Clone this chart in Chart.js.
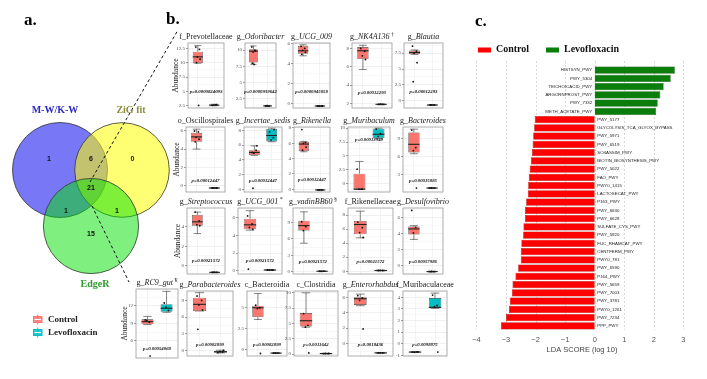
<!DOCTYPE html>
<html><head><meta charset="utf-8">
<script src="https://cdn.jsdelivr.net/npm/chart.js@4.4.1/dist/chart.umd.min.js"></script>
<style>
html,body{margin:0;padding:0;background:#fff;}
#fig{position:relative;width:707px;height:379px;overflow:hidden;background:#fff;}
#fig canvas{position:absolute;left:0;top:0;}
</style></head><body><div id="fig"></div>
<script>
const SERIF='"Liberation Serif","Times New Roman",serif';
const SANS='"Liberation Sans",Arial,sans-serif';

// ================= DATA =================
// Panel a: Venn diagram
const vennSetNames=['M-W/K-W','ZiG fit','EdgeR'];
// regions: A only, A∩B, B only, A∩B∩C, A∩C, B∩C, C only
const vennCounts=[1,6,0,21,1,1,15];
const groupNames=['Control','Levofloxacin'];

// Panel b: differentially abundant taxa
const taxaRank=['f_','g_','g_','g_','g_','o_','g_','g_','g_','g_','g_','g_','g_','f_','g_','g_','g_','c_','c_','g_','f_'];
const taxaNames=['Prevotellaceae','Odoribacter','UCG_009','NK4A136','Blautia','Oscillospirales','Incertae_sedis','Rikenella','Muribaculum','Bacteroides','Streptococcus','UCG_001','vadinBB60','Rikenellaceae','Desulfovibrio','RC9_gut','Parabacteroides','Bacteroidia','Clostridia','Enterorhabdus','Muribaculaceae'];
const taxaMarks=['','','','\u2020','','','','','','','','*','\u00a7','','','\u00a5','','','','',''];
const pValues=['p=0.0000824093','p=0.0000939642','p=0.0000945058','p=0.00012293','p=0.00012293','p=0.00012447','p=0.00012447','p=0.00012447','p=0.00013948','p=0.00015885','p=0.00021572','p=0.00021572','p=0.00021572','p=0.00021572','p=0.00057986','p=0.00054068','p=0.00082899','p=0.00082899','p=0.0011642','p=0.0018436','p=0.0098875'];
// [min, Q1, median, Q3, max]
const ctrlStats=[
 [9.9,9.9,11.0,11.9,12.95],[7.8,8.1,9.85,10.15,10.65],[4.75,4.95,5.25,5.75,5.85],[5.7,6.85,7.75,8.15,8.35],[7.3,7.35,7.6,7.9,8.0],
 [4.0,4.8,5.35,5.8,6.2],[4.6,4.65,5.0,5.3,5.9],[4.9,5.0,5.9,6.2,6.25],[-1.0,-1.0,-1.0,1.8,4.0],[6.5,6.7,8.05,10.0,10.55],
 [3.3,4.1,4.5,5.2,5.5],[4.6,4.7,5.2,5.9,6.8],[5.2,7.5,8.4,9.3,10.9],[4.75,5.25,6.65,7.15,8.55],[3.3,3.9,4.6,4.9,5.0],
 [8.8,8.85,9.3,9.7,10.2],[7.1,7.1,8.3,9.5,10.4],[3.6,3.9,5.0,5.25,6.7],[4.4,4.5,5.45,6.7,10.0],[4.9,5.0,5.8,6.0,6.4],[-0.75,-0.74,-0.72,-0.7,-0.68]];
const levoStats=[
 [2.55,2.6,2.65,2.7,2.8],[1.35,1.4,1.42,1.45,1.5],[-0.32,-0.3,-0.27,-0.25,-0.22],[1.85,1.88,1.9,1.92,1.95],[-0.72,-0.7,-0.68,-0.66,-0.64],
 [-0.34,-0.32,-0.3,-0.28,-0.26],[6.45,6.5,7.3,8.2,8.3],[-0.12,-0.1,-0.08,-0.06,-0.04],[8.1,8.2,8.9,9.9,10.0],[0.8,0.82,0.85,0.88,0.9],
 [-0.72,-0.7,-0.68,-0.66,-0.64],[0.05,0.07,0.1,0.12,0.15],[0.05,0.07,0.1,0.12,0.15],[0.05,0.07,0.1,0.12,0.15],[-0.75,-0.72,-0.7,-0.68,-0.65],
 [10.9,11.0,11.6,12.3,14.5],[-0.45,-0.35,-0.25,-0.1,0.05],[-0.45,-0.42,-0.4,-0.38,-0.35],[0.05,0.07,0.1,0.12,0.15],[-1.25,-1.22,-1.2,-1.18,-1.15],[3.05,3.08,3.14,3.94,4.37]];
const ctrlPoints=[
 [12.7,12.3,11.0,10.6,10.0,2.6],[10.5,10.0,9.7,9.9,8.0,7.8],[5.7,5.5,5.3,5.1,4.9],[8.0,7.7,7.2,6.8],[8.6,7.8,7.5,6.0,3.0],
 [6.0,5.9,5.3,5.1,4.8],[5.0,5.3,4.9,5.9,0.15],[7.8,6.1,6.0,5.5,5.1],[2.6,-1.0,-1.0,-1.0],[10.4,7.5,7.0,0.85],
 [5.5,4.6,4.2,4.1],[6.2,5.3,4.9,4.7,0.2],[9.1,8.2,7.5],[7.0,6.2,5.5,4.8],[6.9,4.8,4.1],
 [9.6,9.2,9.5,3.4],[9.8,9.0,8.2,7.3,3.8],[5.3,5.0,4.9,-0.45],[6.6,4.7,4.4,0.2],[6.2,5.9,5.6,1.9],[-0.72,-0.7,-0.74,-0.71]];
const levoPoints=[
 [2.62,2.7,2.66,2.75],[1.42,1.4,1.46],[-0.27,-0.28,-0.26,-0.27],[1.9,1.9,1.92],[-0.68,-0.68,-0.67],
 [-0.3,-0.31,-0.29,-0.3],[7.8,7.0,6.7,8.1],[-0.08,-0.09,-0.07],[9.8,9.0,8.5],[0.85,0.85,0.86],
 [-0.68,-0.68,-0.67],[0.1,0.1,0.12,0.09],[0.1,0.11,0.09],[0.1,0.1,0.11],[-0.7,-0.7,-0.69],
 [12.5,11.2,11.8],[-0.4,-0.3,-0.2,0.0],[-0.4,-0.4,-0.41],[0.1,0.1,0.11,0.12],[-1.2,-1.2,-1.19],[4.2,3.3,3.2,-0.72]];
const yTickSteps=[2.5,2.5,2,2,2.5, 2,2,2,2.5,3, 2,2,3,2,2, 3,3,2.5,2.5,2,1];

// Panel c: LEfSe LDA scores
const pathways=['HISTSYN_PWY','PWY_5304','TEICHOICACID_PWY','ARGORNPROST_PWY','PWY_7332','METH_ACETATE_PWY','PWY_5177','GLYCOLYSIS_TCA_GLYOX_BYPASS','PWY_5971','PWY_6519','SO4ASSIM_PWY','BIOTIN_BIOSYNTHESIS_PWY','PWY_5022','FAO_PWY','PWY0_1415','LACTOSECAT_PWY','P163_PWY','PWY_6630','PWY_6628','SULFATE_CYS_PWY','PWY_5920','FUC_RHAMCAT_PWY','CENTFERM_PWY','PWY0_781','PWY_6590','P164_PWY','PWY_5659','PWY_7003','PWY_3781','PWY0_1261','PWY_7234','PPP_PWY'];
const ldaScores=[2.71,2.57,2.33,2.22,2.13,2.08,-2.03,-2.05,-2.08,-2.10,-2.12,-2.16,-2.20,-2.23,-2.25,-2.26,-2.32,-2.36,-2.36,-2.41,-2.42,-2.48,-2.50,-2.50,-2.59,-2.68,-2.78,-2.80,-2.87,-2.90,-3.00,-3.17];
const ldaTicks=[-4,-3,-2,-1,0,1,2,3];

// ================= LAYOUT (positions / sizes only) =================
const vennCircles=[{x:60,y:170,r:47.5},{x:122,y:170,r:47.3},{x:91,y:226,r:47.6}];
const vennCountPos=[[49,159],[91,159],[132.5,159],[91,188],[66,211.5],[117,211.5],[91,234]];
const vennNamePos=[[55,110],[131,110],[95,284]];
// [left, top, right, bottom] of each small plot panel
const boxLayout=[
 [188,43,224,108],[245,43,276,108],[293,43,330,108],[352,43,392,108],[404,43,443,108],
 [186,127,225,192],[244,127,282,192],[294,127,330,192],[348,127,390,192],[403,127,443,192],
 [187,208,225,274],[238,208,282,274],[293,208,333,274],[348,208,393,274],[403,208,443,274],
 [136,289,178,358],[187,291,233,356],[247,291,287,356],[294,291,338,356],[348,291,393,356],[403,291,447,356]];
const yRanges=[[2.15,13.4],[1.1,11.1],[-0.47,6.03],[1.5,8.6],[-1.15,9.1],
 [-0.74,6.44],[-0.36,8.45],[-0.35,8.13],[-1.5,10.2],[0.2,10.9],
 [-0.85,5.92],[-0.35,7.1],[-0.4,11.6],[-0.4,9.0],[-1.0,7.2],
 [3.07,14.9],[-1.0,10.7],[-0.75,7.0],[-0.3,10.3],[-1.6,6.8],[-1.06,4.55]];
const pLabelY=[5.0,3.6,1.2,3.2,1.4, 0.55,1.2,1.2,7.9,2.0, 0.5,1.1,1.9,1.4,0.5, 4.6,1.1,0.6,1.5,-0.1,-0.1];
const yTitleOffset={0:12,5:9,10:9,15:11};
const JIT=[-0.12,0.1,-0.03,0.14,-0.08,0.05];

const CTRL_COL='#F8766D', LEVO_COL='#00BFC4';
Chart.defaults.animation=false;
Chart.defaults.font.family=SERIF;

const fig=document.getElementById('fig');
function addCanvas(){const c=document.createElement('canvas');c.width=707;c.height=379;c.style.width='707px';c.style.height='379px';fig.appendChild(c);return c;}

// ================= Panel a (overlay) =================
const overlayPlugin={id:'overlay',
 afterDatasetsDraw(chart){
  const ctx=chart.ctx, X=v=>chart.scales.x.getPixelForValue(v), Y=v=>chart.scales.y.getPixelForValue(v);
  ctx.save();
  ctx.textAlign='center';ctx.textBaseline='middle';
  ctx.fillStyle='#111';ctx.font='bold 7px '+SANS;
  vennCounts.forEach((c,i)=>ctx.fillText(String(c),X(vennCountPos[i][0]),Y(vennCountPos[i][1])));
  const nameCols=['#2a2ac0','#8d8b3a','#2f9a2f'];
  ctx.font='bold 10px '+SERIF;
  vennSetNames.forEach((n,i)=>{ctx.fillStyle=nameCols[i];ctx.fillText(n,X(vennNamePos[i][0]),Y(vennNamePos[i][1]));});
  // panel letters
  ctx.fillStyle='#000';ctx.font='bold 17px '+SERIF;ctx.textAlign='left';
  ctx.fillText('a.',24,21);ctx.fillText('b.',166,20);
  // group legend
  const cols=[CTRL_COL,LEVO_COL];
  groupNames.forEach((g,i)=>{
   const cy=319.5+i*13, x0=33.5, w=8.5;
   ctx.strokeStyle=cols[i];ctx.fillStyle=cols[i];ctx.lineWidth=1;
   ctx.beginPath();ctx.moveTo(x0+w/2,cy-5);ctx.lineTo(x0+w/2,cy+5);ctx.stroke();
   ctx.globalAlpha=0.85;ctx.fillRect(x0,cy-3,w,6);ctx.globalAlpha=1;
   ctx.strokeRect(x0,cy-3,w,6);
   ctx.strokeStyle='#fff';ctx.beginPath();ctx.moveTo(x0+1,cy);ctx.lineTo(x0+w-1,cy);ctx.stroke();
   ctx.fillStyle='#222';ctx.font='bold 9px '+SERIF;ctx.textAlign='left';
   ctx.fillText(g,48,cy);
  });
  ctx.restore();
 }};
const b0=boxLayout[0], b15=boxLayout[15];
new Chart(addCanvas(),{
 type:'bubble',
 data:{datasets:[
  {label:vennSetNames[0],data:[vennCircles[0]],backgroundColor:'rgba(30,30,240,0.6)',borderColor:'#333',borderWidth:0.8,order:3},
  {label:vennSetNames[1],data:[vennCircles[1]],backgroundColor:'rgba(255,255,0,0.55)',borderColor:'#333',borderWidth:0.8,order:2},
  {label:vennSetNames[2],data:[vennCircles[2]],backgroundColor:'rgba(0,225,0,0.5)',borderColor:'#333',borderWidth:0.8,order:1},
  {type:'line',label:'link1',data:[{x:vennCountPos[3][0]-1,y:vennCountPos[3][1]-6},{x:b0[0]-10,y:b0[1]-13}],borderColor:'#111',borderWidth:1,borderDash:[3,2.5],pointRadius:0,fill:false,order:0},
  {type:'line',label:'link2',data:[{x:vennCountPos[3][0]+1,y:vennCountPos[3][1]+18},{x:b15[0]-7,y:b15[1]-7}],borderColor:'#111',borderWidth:1,borderDash:[3,2.5],pointRadius:0,fill:false,order:0}
 ]},
 options:{responsive:false,events:[],layout:{padding:0,autoPadding:false},
  scales:{x:{type:'linear',min:0,max:707,display:false},y:{type:'linear',min:0,max:379,reverse:true,display:false}},
  plugins:{legend:{display:false},tooltip:{enabled:false}}},
 plugins:[overlayPlugin]
});

// ================= Panel b (small boxplots) =================
function smallChart(i){
 const [L,T,R,B]=boxLayout[i];
 const [ymin,ymax]=yRanges[i];
 const step=yTickSteps[i];
 const isMajor=v=>Math.abs(v/step-Math.round(v/step))<1e-6;
 const stats=[ctrlStats[i],levoStats[i]];
 const scatter=[];
 [ctrlPoints[i],levoPoints[i]].forEach((arr,g)=>arr.forEach((v,j)=>scatter.push({x:g+1+JIT[j%JIT.length],y:v})));
 const plugin={id:'box'+i,
  beforeDatasetDraw(chart,args){
   if(args.index!==0)return;
   const ctx=chart.ctx, ys=chart.scales.y, meta=chart.getDatasetMeta(0);
   ctx.save();ctx.strokeStyle='#333';ctx.lineWidth=0.6;
   stats.forEach((s,g)=>{
    const el=meta.data[g], cx=el.x, w=el.width*0.7;
    const p=s.map(v=>ys.getPixelForValue(v));
    ctx.beginPath();
    ctx.moveTo(cx,p[0]);ctx.lineTo(cx,p[1]);ctx.moveTo(cx,p[3]);ctx.lineTo(cx,p[4]);
    ctx.moveTo(cx-w/2,p[0]);ctx.lineTo(cx+w/2,p[0]);ctx.moveTo(cx-w/2,p[4]);ctx.lineTo(cx+w/2,p[4]);
    ctx.stroke();
   });
   ctx.restore();
  },
  afterDatasetDraw(chart,args){
   if(args.index!==0)return;
   const ctx=chart.ctx, ys=chart.scales.y, meta=chart.getDatasetMeta(0);
   ctx.save();ctx.strokeStyle='#222';ctx.lineWidth=1.1;
   stats.forEach((s,g)=>{const el=meta.data[g];const y=ys.getPixelForValue(s[2]);
    ctx.beginPath();ctx.moveTo(el.x-el.width/2,y);ctx.lineTo(el.x+el.width/2,y);ctx.stroke();});
   ctx.restore();
  },
  afterDraw(chart){
   const ctx=chart.ctx, ca=chart.chartArea, ys=chart.scales.y;
   ctx.save();
   ctx.strokeStyle='#9a9a9a';ctx.lineWidth=0.8;ctx.strokeRect(ca.left,ca.top,ca.right-ca.left,ca.bottom-ca.top);
   // title
   const italic=taxaRank[i]==='g_';
   ctx.fillStyle='#1a1a1a';ctx.textBaseline='alphabetic';ctx.textAlign='left';
   ctx.font='8px '+SERIF;const w1=ctx.measureText(taxaRank[i]).width;
   ctx.font=(italic?'italic ':'')+'8px '+SERIF;const w2=ctx.measureText(taxaNames[i]).width;
   ctx.font='6px '+SERIF;const w3=taxaMarks[i]?ctx.measureText(taxaMarks[i]).width+1.5:0;
   let x=(ca.left+ca.right)/2-(w1+w2+w3)/2;const ty=ca.top-4;
   ctx.font='8px '+SERIF;ctx.fillText(taxaRank[i],x,ty);x+=w1;
   ctx.font=(italic?'italic ':'')+'8px '+SERIF;ctx.fillText(taxaNames[i],x,ty);x+=w2;
   if(taxaMarks[i]){ctx.font='6px '+SERIF;ctx.fillText(taxaMarks[i],x+1.5,ty-3);}
   // p value
   ctx.font='italic bold 4.8px '+SERIF;ctx.textAlign='center';ctx.textBaseline='middle';ctx.fillStyle='#111';
   ctx.fillText(pValues[i],(ca.left+ca.right)/2,ys.getPixelForValue(pLabelY[i]));
   // y title
   if(yTitleOffset[i]!==undefined){
    ctx.translate(ca.left-yTitleOffset[i],(ca.top+ca.bottom)/2);ctx.rotate(-Math.PI/2);
    ctx.font='7.5px '+SERIF;ctx.fillStyle='#222';ctx.fillText('Abundance',0,0);
   }
   ctx.restore();
  }};
 new Chart(addCanvas(),{
  type:'bar',
  data:{datasets:[
   {type:'bar',label:'box',data:stats.map((s,g)=>({x:g+1,y:[s[1],s[3]]})),backgroundColor:[CTRL_COL,LEVO_COL],borderColor:'#3a3a3a',borderWidth:0.6,borderSkipped:false,barPercentage:0.62,categoryPercentage:1,order:1},
   {type:'scatter',label:'samples',data:scatter,pointRadius:0.9,pointBackgroundColor:'#111',pointBorderWidth:0,order:0}
  ]},
  options:{responsive:false,events:[],
   layout:{padding:{left:L-12,top:T,right:707-R,bottom:379-B},autoPadding:false},
   plugins:{legend:{display:false},tooltip:{enabled:false}},
   scales:{
    x:{type:'linear',min:0.4,max:2.6,offset:false,
     afterBuildTicks(s){s.ticks=[{value:1},{value:2}];},
     afterFit(s){s.height=0;},
     ticks:{display:false},grid:{offset:false,color:'#ededed',lineWidth:0.6,drawTicks:false},border:{display:false}},
    y:{type:'linear',min:ymin,max:ymax,
     afterBuildTicks(s){const h=step/2,t=[];for(let v=Math.ceil(ymin/h-1e-9)*h;v<=ymax+1e-9;v+=h)t.push({value:+v.toFixed(4)});s.ticks=t;},
     afterFit(s){s.width=12;},
     ticks:{font:{family:SERIF,size:5},color:'#4d4d4d',padding:1,autoSkip:false,maxRotation:0,
      callback:v=>isMajor(v)?String(+(+v).toFixed(2)):''},
     grid:{color:c=>(c.tick&&isMajor(c.tick.value))?'#e6e6e6':'#f3f3f3',lineWidth:0.6,tickLength:2,
      tickColor:c=>(c.tick&&isMajor(c.tick.value))?'#555':'rgba(0,0,0,0)',tickWidth:0.6},
     border:{display:false}}
   }},
  plugins:[plugin]
 });
}
for(let i=0;i<taxaNames.length;i++)smallChart(i);

// ================= Panel c (LEfSe) =================
const ldaPlugin={id:'lda',
 beforeDatasetsDraw(chart){
  const {ctx,chartArea:ca}=chart, x=chart.scales.x;
  ctx.save();ctx.strokeStyle='#cfcfcf';ctx.lineWidth=0.8;ctx.setLineDash([2,2]);
  ldaTicks.forEach(t=>{const px=Math.round(x.getPixelForValue(t))+0.5;ctx.beginPath();ctx.moveTo(px,ca.top-5);ctx.lineTo(px,ca.bottom);ctx.stroke();});
  ctx.restore();
 },
 afterDatasetsDraw(chart){
  const ctx=chart.ctx, x=chart.scales.x, y=chart.scales.y, x0=x.getPixelForValue(0);
  ctx.save();ctx.font='4.4px '+SANS;ctx.fillStyle='#222';ctx.textBaseline='middle';
  pathways.forEach((p,i)=>{const py=y.getPixelForValue(i);
   if(ldaScores[i]>0){ctx.textAlign='right';ctx.fillText(p,x0-2.5,py);}else{ctx.textAlign='left';ctx.fillText(p,x0+2.5,py);}});
  ctx.restore();
 },
 afterDraw(chart){
  const ctx=chart.ctx;ctx.save();
  ctx.fillStyle='#000';ctx.font='bold 17px '+SERIF;ctx.textBaseline='middle';ctx.textAlign='left';
  ctx.fillText('c.',475,22);
  const cols=['#ff0000','#0a7d0a'], xs=[478,546];
  groupNames.forEach((g,i)=>{ctx.fillStyle=cols[i];ctx.fillRect(xs[i],47.5,13,5);
   ctx.fillStyle='#111';ctx.font='bold 10px '+SERIF;ctx.fillText(g,xs[i]+18,49.5);});
  ctx.restore();
 }};
new Chart(addCanvas(),{
 type:'bar',
 data:{labels:pathways,datasets:[
  {label:groupNames[0],data:ldaScores.map(v=>v<0?v:null),backgroundColor:'#ff0000',borderColor:'#9a0000',borderWidth:0.6,grouped:false,barPercentage:0.88,categoryPercentage:1},
  {label:groupNames[1],data:ldaScores.map(v=>v>0?v:null),backgroundColor:'#0a7d0a',borderColor:'#004a00',borderWidth:0.6,grouped:false,barPercentage:0.88,categoryPercentage:1}
 ]},
 options:{responsive:false,events:[],indexAxis:'y',
  layout:{padding:{left:472,right:15,top:66,bottom:0},autoPadding:false},
  plugins:{legend:{display:false},tooltip:{enabled:false}},
  scales:{
   y:{type:'category',display:false,offset:true},
   x:{type:'linear',min:-4.15,max:3.29,position:'bottom',
    afterBuildTicks(s){s.ticks=ldaTicks.map(v=>({value:v}));},
    afterFit(s){s.height=49;},
    grid:{display:false,drawTicks:false},border:{display:false},
    ticks:{font:{family:SANS,size:7.5},color:'#555',padding:5,autoSkip:false,maxRotation:0,
     callback:v=>(v<0?'\u2212':'')+Math.abs(v)},
    title:{display:true,text:'LDA SCORE (log 10)',font:{family:SANS,size:7.5},color:'#444',padding:{top:0,bottom:24.5}}}
  }},
 plugins:[ldaPlugin]
});
</script>
</body></html>
